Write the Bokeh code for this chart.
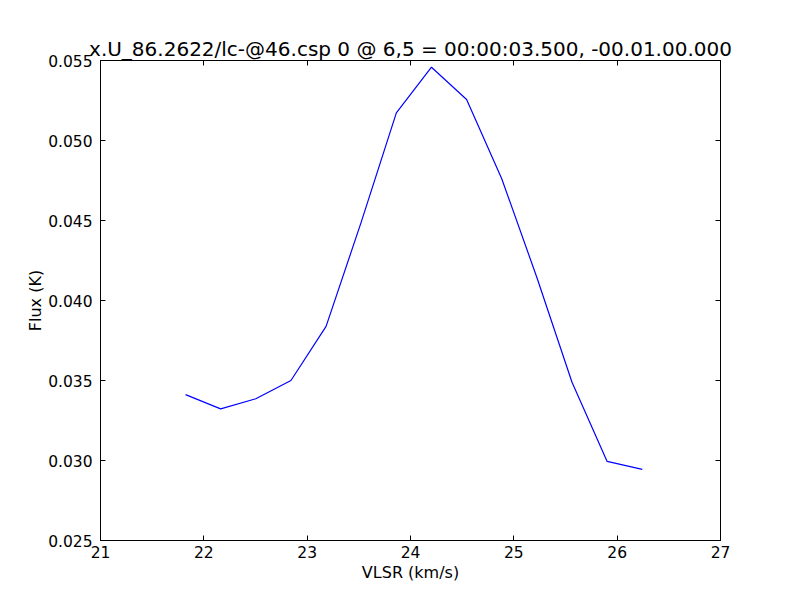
from bokeh.plotting import figure
from bokeh.models import Range1d, LinearAxis, FixedTicker, PrintfTickFormatter, CustomJSTickFormatter
from bokeh.embed import file_html
from bokeh.resources import INLINE

# Data
velocity = [21.823, 22.163, 22.503, 22.843, 23.183, 23.523, 23.863,
            24.203, 24.543, 24.883, 25.223, 25.563, 25.903, 26.243]
flux = [0.03412, 0.03323, 0.03386, 0.03500, 0.03838, 0.04490, 0.05173,
        0.05458, 0.05256, 0.04761, 0.04144, 0.03489, 0.02994, 0.02944]

x_ticks = [21, 22, 23, 24, 25, 26, 27]
y_ticks = [0.025, 0.030, 0.035, 0.040, 0.045, 0.050, 0.055]

title_text = "x.U_86.2622/lc-@46.csp 0 @ 6,5 = 00:00:03.500, -00.01.00.000"
FONT = "DejaVu Sans"

p = figure(width=800, height=600, output_backend="svg", toolbar_location=None,
           x_range=Range1d(21, 27), y_range=Range1d(0.025, 0.055),
           x_axis_label="VLSR (km/s)", y_axis_label="Flux (K)",
           min_border_left=100, min_border_right=80,
           min_border_top=60, min_border_bottom=60)

p.title.text = title_text
p.title.align = "center"
p.title.text_font = FONT
p.title.text_font_size = "20px"
p.title.text_font_style = "normal"
p.title.text_color = "black"
p.title.standoff = 0

p.line(velocity, flux, line_color="#0000ff", line_width=1.2)

p.grid.visible = False
p.outline_line_color = "black"
p.outline_line_width = 1
p.background_fill_color = "white"
p.border_fill_color = "white"

def style_axis(ax, ticks, show_labels=True):
    ax.ticker = FixedTicker(ticks=ticks)
    ax.major_tick_in = 5
    ax.major_tick_out = 0
    ax.minor_tick_line_color = None
    ax.axis_line_color = "black"
    ax.major_tick_line_color = "black"
    ax.major_label_text_font = FONT
    ax.major_label_text_color = "black"
    ax.axis_label_text_font = FONT
    ax.axis_label_text_font_style = "normal"
    ax.axis_label_text_color = "black"
    if not show_labels:
        ax.formatter = CustomJSTickFormatter(code="return '';")
        ax.major_label_standoff = 0

style_axis(p.xaxis[0], x_ticks)
style_axis(p.yaxis[0], y_ticks)
p.xaxis[0].major_label_text_font_size = "15.5px"
p.yaxis[0].major_label_text_font_size = "15.5px"
p.xaxis[0].axis_label_text_font_size = "16px"
p.yaxis[0].axis_label_text_font_size = "16px"
p.yaxis[0].formatter = PrintfTickFormatter(format="%.3f")
p.xaxis[0].major_label_standoff = 5
p.yaxis[0].major_label_standoff = 8
p.xaxis[0].axis_label_standoff = 2
p.yaxis[0].axis_label_standoff = 0

top_ax = LinearAxis()
style_axis(top_ax, x_ticks, show_labels=False)
right_ax = LinearAxis()
style_axis(right_ax, y_ticks, show_labels=False)
p.add_layout(top_ax, "above")
p.add_layout(right_ax, "right")

open("out.html", "w").write(file_html(p, INLINE))
